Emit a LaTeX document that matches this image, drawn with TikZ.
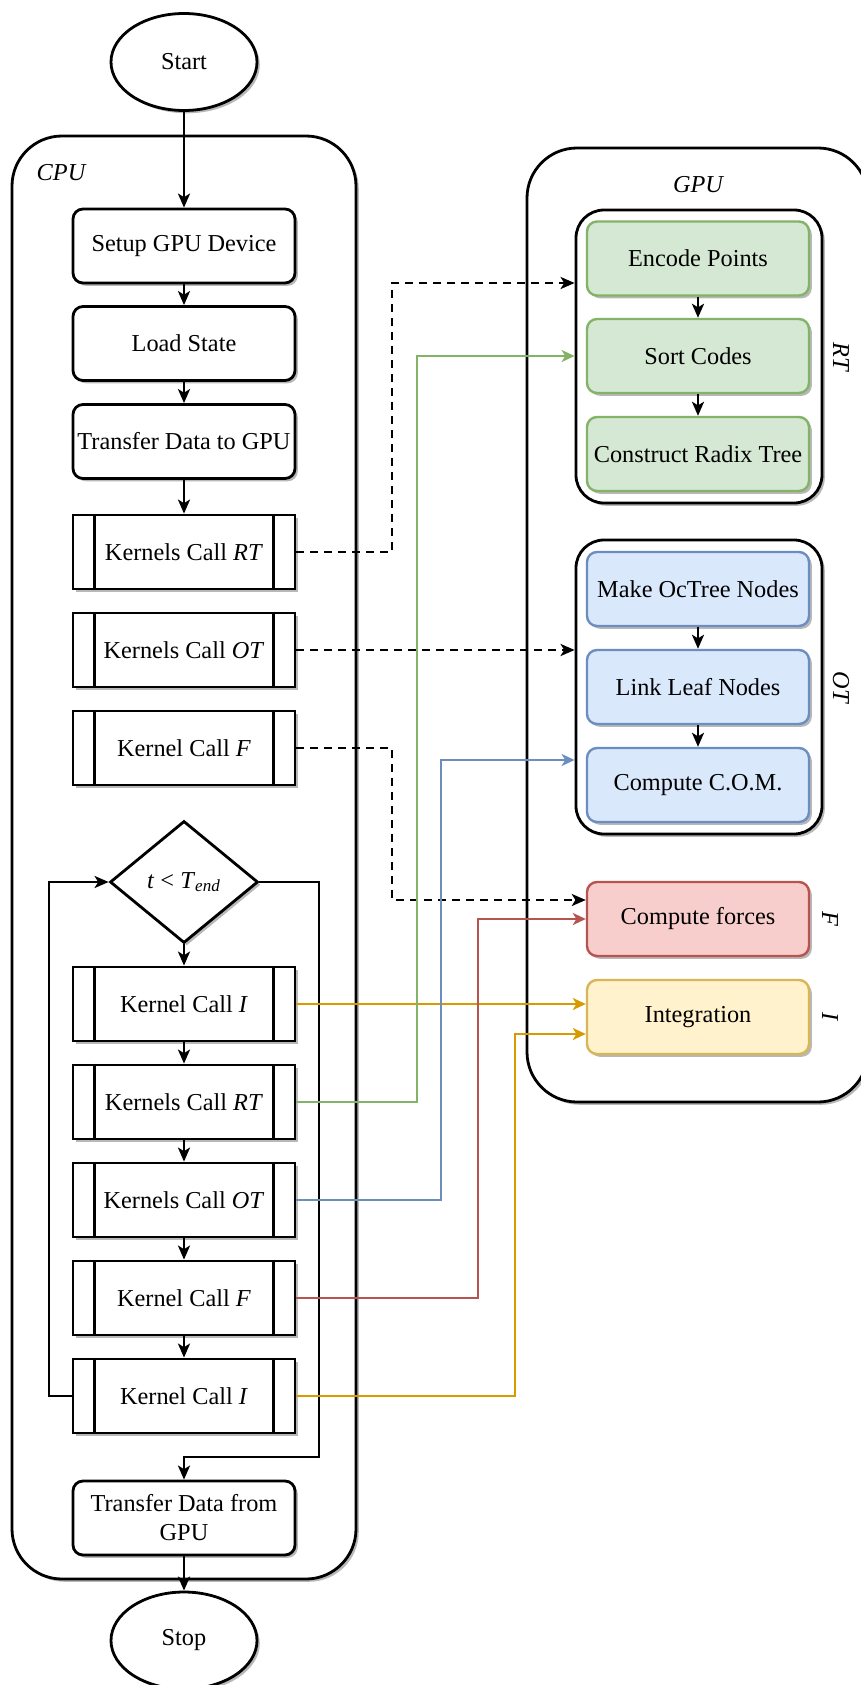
\documentclass[tikz,border=0pt]{standalone}
\usepackage{fontspec}
\setmainfont{Liberation Serif}
\usetikzlibrary{shapes.geometric,arrows.meta,shadows}
\definecolor{gfill}{HTML}{D5E8D4}\definecolor{gline}{HTML}{82B366}
\definecolor{bfill}{HTML}{DAE8FC}\definecolor{bline}{HTML}{6C8EBF}
\definecolor{rfill}{HTML}{F8CECC}\definecolor{rline}{HTML}{B85450}
\definecolor{yfill}{HTML}{FFF2CC}\definecolor{yline}{HTML}{D6B656}
\definecolor{oline}{HTML}{D79B00}
\begin{document}
\begin{tikzpicture}[x=0.5pt,y=-0.5pt,line width=1.4pt,
  every node/.style={font=\fontsize{12.15}{14.5}\selectfont},
  lbl/.style={font=\fontsize{12.15}{14.5}\selectfont\itshape},
  shad/.style={drop shadow={shadow xshift=1.4pt,shadow yshift=-1.4pt,fill=black!28,opacity=1}},
  cont/.style={draw,rounded corners=25pt,fill=white,shad,inner sep=0pt},
  grp/.style={draw,rounded corners=14pt,fill=white,shad,inner sep=0pt,minimum width=123pt},
  proc/.style={draw,rounded corners=5pt,fill=white,shad,minimum width=111pt,minimum height=37pt,inner sep=1pt,align=center},
  kbox/.style={draw,fill=white,shad,minimum width=111pt,minimum height=37pt,inner sep=1pt},
  term/.style={draw,ellipse,fill=white,shad,minimum width=73pt,minimum height=48.5pt,inner sep=0pt},
  dec/.style={draw,diamond,fill=white,shad,minimum width=74pt,minimum height=61pt,inner sep=0pt},
  gbox/.style={proc,draw=gline,fill=gfill,line width=1.2pt},
  bbox/.style={proc,draw=bline,fill=bfill,line width=1.2pt},
  rbox/.style={proc,draw=rline,fill=rfill,line width=1.2pt},
  ybox/.style={proc,draw=yline,fill=yfill,line width=1.2pt},
  arr/.style={-{Stealth[length=7pt,width=6pt,inset=1.8pt]}},
  dsh/.style={arr,dash pattern=on 4pt off 3pt},
  col/.style={-{Stealth[length=6.5pt,width=6pt,inset=1.8pt]},line width=1.05pt}
]
\useasboundingbox (0,0) rectangle (861,1685);
\clip (0,0) rectangle (861,1685);

% containers
\node[cont,minimum width=172pt,minimum height=721.5pt] (cpu) at (184,857.5) {};
\node[cont,minimum width=170.5pt,minimum height=477pt] (gpu) at (697.5,625) {};
\node[lbl] (cpulbl) at (61,173) {CPU};
\node[lbl] (gpulbl) at (698,185) {GPU};

\node[grp,minimum height=146.5pt] (rtg) at (699,356.5) {};
\node[grp,minimum height=147pt] (otg) at (699,687) {};

% GPU boxes
\node[gbox] (enc) at (698,258.5) {Encode Points};
\node[gbox] (sort) at (698,356) {Sort Codes};
\node[gbox] (constr) at (698,454) {Construct Radix Tree};
\node[bbox] (make) at (698,589) {Make OcTree Nodes};
\node[bbox] (link) at (698,687) {Link Leaf Nodes};
\node[bbox] (com) at (698,785) {Compute C.O.M.};
\node[rbox] (forces) at (698,919) {Compute forces};
\node[ybox] (integ) at (698,1017) {Integration};

\node[lbl,rotate=-90] (rtl) at (841,357) {RT};
\node[lbl,rotate=-90] (otl) at (841,687) {OT};
\node[lbl,rotate=-90] (fl) at (830,919) {F};
\node[lbl,rotate=-90] (il) at (830,1017) {I};

% CPU column
\node[term] (start) at (184,62) {Start};
\node[proc] (setup) at (184,246) {Setup GPU Device};
\node[proc] (load) at (184,343.5) {Load State};
\node[proc] (tgpu) at (184,441.5) {Transfer Data to GPU};
\node[kbox] (krt1) at (184,552) {Kernels Call \textit{RT}};
\node[kbox] (kot1) at (184,650) {Kernels Call \textit{OT}};
\node[kbox] (kf1) at (184,748) {Kernel Call \textit{F}};
\node[dec] (dia) at (184,882) {\textit{t} {<} \textit{T}\textsubscript{\textit{end}}};
\node[kbox] (ki1) at (184,1004) {Kernel Call \textit{I}};
\node[kbox] (krt2) at (184,1102) {Kernels Call \textit{RT}};
\node[kbox] (kot2) at (184,1200) {Kernels Call \textit{OT}};
\node[kbox] (kf2) at (184,1298) {Kernel Call \textit{F}};
\node[kbox] (ki2) at (184,1396) {Kernel Call \textit{I}};
\node[proc] (tfrom) at (184,1518) {Transfer Data from\\GPU};
\node[term] (stop) at (184,1640.5) {Stop};

\foreach \n in {krt1,kot1,kf1,ki1,krt2,kot2,kf2,ki2}{
  \draw ([xshift=11.5pt]\n.north west) -- ([xshift=11.5pt]\n.south west);
  \draw ([xshift=-11.5pt]\n.north east) -- ([xshift=-11.5pt]\n.south east);
}

% black flow
\draw[arr] (start) -- (setup);
\draw[arr] (setup) -- (load);
\draw[arr] (load) -- (tgpu);
\draw[arr] (tgpu) -- (krt1);
\draw[arr] (dia) -- (ki1);
\draw[arr] (ki1) -- (krt2);
\draw[arr] (krt2) -- (kot2);
\draw[arr] (kot2) -- (kf2);
\draw[arr] (kf2) -- (ki2);
\draw[arr] (tfrom) -- (stop);
\coordinate (loopL) at (49,1396);
\coordinate (loopR) at (319,1457);
\draw[arr] (ki2.west) -- (loopL) |- (dia.west);
\draw[arr] (dia.east) -| (loopR) -| (tfrom.north);

\draw[arr] (enc) -- (sort);
\draw[arr] (sort) -- (constr);
\draw[arr] (make) -- (link);
\draw[arr] (link) -- (com);

% links CPU -> GPU
\draw[dsh] (krt1.east) -- (392,552) |- ([yshift=36.75pt]rtg.west);
\draw[dsh] (kot1.east) -- (otg.west |- kot1.east);
\draw[dsh] (kf1.east) -- (392,748) |- ([yshift=9.5pt]forces.west);
\draw[col,draw=oline] (ki1.east) -- (integ.west |- ki1.east);
\draw[col,draw=gline] (krt2.east) -- (417,1102) |- (rtg.west |- sort.west);
\draw[col,draw=bline] (kot2.east) -- (441,1200) |- ([yshift=-36.5pt]otg.west);
\draw[col,draw=rline] (kf2.east) -- (478,1298) |- (forces.west);
\draw[col,draw=oline] (ki2.east) -- (515,1396) |- ([yshift=-8.5pt]integ.west);
\end{tikzpicture}
\end{document}
